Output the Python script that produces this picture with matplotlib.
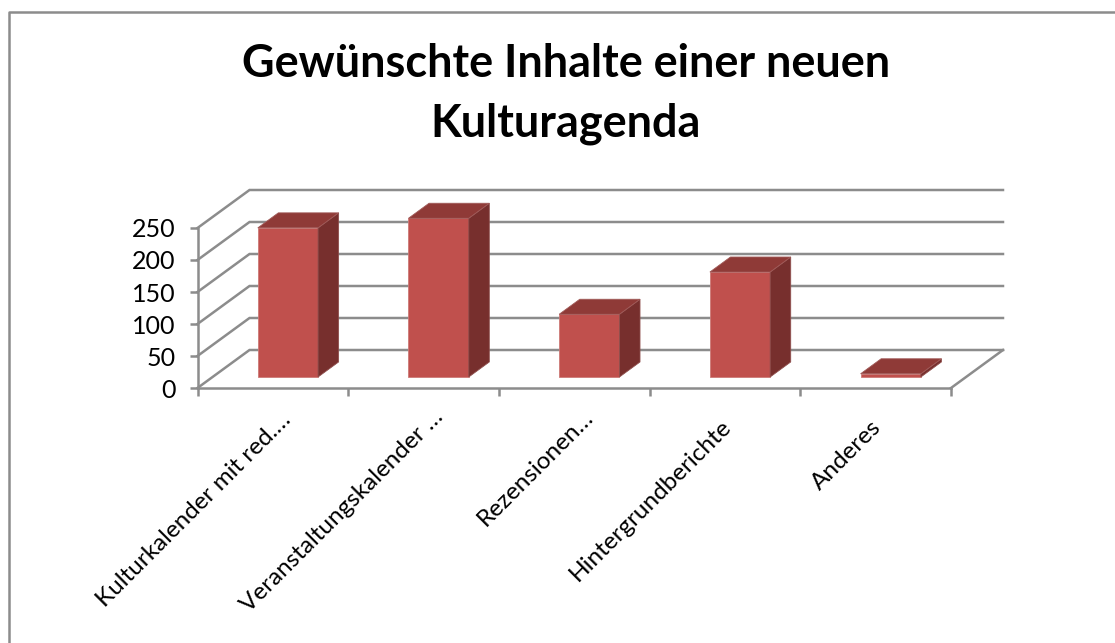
#!/usr/bin/env python
import matplotlib
matplotlib.use("Agg")
import matplotlib.pyplot as plt
from matplotlib.patches import Polygon
from matplotlib.transforms import ScaledTranslation

plt.rcParams['font.family'] = ['Lato', 'DejaVu Sans']

title = "Gewünschte Inhalte einer neuen\nKulturagenda"
categories = ["Kulturkalender mit red.…", "Veranstaltungskalender …", "Rezensionen…",
              "Hintergrundberichte", "Anderes"]
values = [233, 248, 98, 164, 5]
yticks = [0, 50, 100, 150, 200, 250]

W, H = 1115, 643
# front plane of the chart in pixels
left, right, bottom, top = 197.5, 951, 388, 228

# depth of the floor, in axis units (x categories, y values)
depth_x = 52 / ((right - left) / 5)
depth_y = 38 / ((bottom - top) / 250)
bar_width = 0.40
bar_start = 0.29  # how far back the bar front stands
bar_depth = 0.395

grid_col = '#8c8c8c'
front_col = '#c0504d'
side_col = '#772f2d'
top_col = '#8f3a37'

fig = plt.figure(figsize=(W / 100, H / 100), dpi=100)
ax = fig.add_axes([left / W, 1 - bottom / H, (right - left) / W, (bottom - top) / H])
ax.set_xlim(0, 5)
ax.set_ylim(0, 250)
ax.patch.set_visible(False)

for s in ['top', 'right']:
    ax.spines[s].set_visible(False)
for s in ['left', 'bottom']:
    ax.spines[s].set_color(grid_col)
    ax.spines[s].set_linewidth(1.8)

# back wall and side wall grid
for v in yticks:
    ax.plot([0, depth_x, 5 + depth_x], [v, v + depth_y, v + depth_y], color=grid_col, lw=1.8,
            clip_on=False, zorder=1, solid_joinstyle='miter')
ax.plot([5, 5 + depth_x], [0, depth_y], color=grid_col, lw=1.8, clip_on=False, zorder=1)


def shifted(x, y, d):
    return (x + d * depth_x, y + d * depth_y)


for i, v in enumerate(values):
    x0 = i + 0.5 - bar_width / 2
    x1 = x0 + bar_width
    d0 = bar_start
    d1 = bar_start + bar_depth
    front = [shifted(x0, 0, d0), shifted(x1, 0, d0), shifted(x1, v, d0), shifted(x0, v, d0)]
    side = [shifted(x1, 0, d0), shifted(x1, 0, d1), shifted(x1, v, d1), shifted(x1, v, d0)]
    lid = [shifted(x0, v, d0), shifted(x1, v, d0), shifted(x1, v, d1), shifted(x0, v, d1)]
    for pts, col, ec in [(front, front_col, '#cc7a77'), (side, side_col, '#8f4f4d'), (lid, top_col, '#a05a58')]:
        ax.add_patch(Polygon(pts, closed=True, facecolor=col, edgecolor=ec, lw=0.6,
                             clip_on=False, zorder=3))

ax.set_yticks(yticks)
ax.set_xticks(range(6))
ax.set_xticklabels([])
ax.set_xticks([i + 0.5 for i in range(5)], minor=True)
ax.set_xticklabels(categories, minor=True, rotation=45, ha='right', rotation_mode='anchor',
                   fontsize=17.5, color='black')
ax.tick_params(axis='x', which='minor', length=0, pad=15)
ax.tick_params(axis='x', which='major', length=6, width=1.8, color=grid_col)
ax.tick_params(axis='y', length=6, width=1.8, color=grid_col, labelsize=18, pad=10)

# the slanted labels do not all end at the same spot, shortened ones sit further right
nudge_x = [7, 9, 8, -5, -5]
nudge_y = [0, 3, 3, -7, -8]
for lab, nx, ny in zip(ax.get_xticklabels(minor=True), nudge_x, nudge_y):
    lab.set_transform(lab.get_transform() + ScaledTranslation(nx / 100, ny / 100, fig.dpi_scale_trans))

fig.text(566 / W, 1 - 94 / H, title, ha='center', va='center', fontsize=32.4, fontweight='bold',
         linespacing=1.5, color='black')

# chart frame, only top and left show in the crop
fig.add_artist(plt.Line2D([8.5 / W, 8.5 / W, 1], [0, 1 - 11.5 / H, 1 - 11.5 / H], color=grid_col, lw=1.8))

fig.savefig('out.png', dpi=100, facecolor='white')
